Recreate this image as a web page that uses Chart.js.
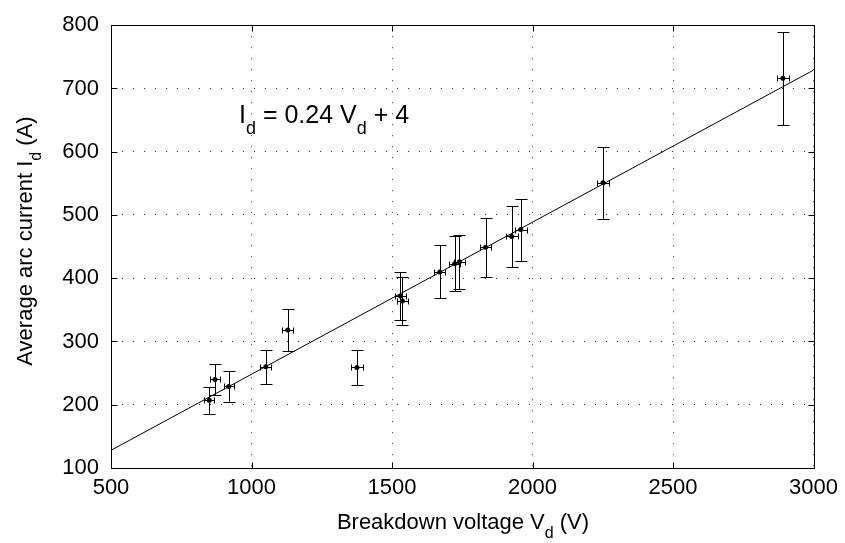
<!DOCTYPE html>
<html>
<head>
<meta charset="utf-8">
<script src="https://cdn.jsdelivr.net/npm/chart.js@4"></script>
<style>
  html, body { margin: 0; padding: 0; background: #fff; }
  #wrap { width: 845px; height: 543px; position: relative; }
</style>
</head>
<body>
<div id="wrap"><canvas id="arcChart"></canvas></div>
<script>
  // measured points: breakdown voltage (V) vs average arc current (A)
  const voltage = [850, 870, 919, 1051, 1129, 1375, 1530, 1537, 1670, 1723, 1740, 1833, 1926, 1958, 2251, 2891];
  const current = [207, 240, 229, 260, 318, 259, 372, 364, 410, 423, 426, 449, 466, 477, 551, 716];
  const voltageErr = [18, 18, 18, 19, 19, 20, 20, 20, 20, 20, 20, 20, 21, 21, 21, 21];
  const currentErr = [21, 25, 24, 27, 33, 27, 38, 38, 42, 43, 43, 47, 48, 49, 57, 74];

  // fitted line I_d = 0.24 V_d + 4, end points as drawn
  const fitVoltage = [500, 3000];
  const fitCurrent = [128, 729];

  const xTicks = [500, 1000, 1500, 2000, 2500, 3000];
  const yTicks = [100, 200, 300, 400, 500, 600, 700, 800];

  const fontFamily = "'Liberation Sans', Arial, sans-serif";

  function textWithSub(ctx, parts, x, y, size, align) {
    // parts: [[text, isSub], ...]
    const subSize = Math.round(size * 0.72);
    let total = 0;
    parts.forEach(([txt, sub]) => {
      ctx.font = `${sub ? subSize : size}px ${fontFamily}`;
      total += ctx.measureText(txt).width;
    });
    let cx = align === "center" ? x - total / 2 : x;
    ctx.textAlign = "left";
    ctx.textBaseline = "alphabetic";
    parts.forEach(([txt, sub]) => {
      ctx.font = `${sub ? subSize : size}px ${fontFamily}`;
      ctx.fillText(txt, cx, sub ? y + size * 0.42 : y);
      cx += ctx.measureText(txt).width;
    });
  }

  const decorations = {
    id: "decorations",
    afterDatasetsDraw(chart) {
      const { ctx, chartArea: area, scales } = chart;
      const sx = scales.x;
      const sy = scales.y;
      ctx.save();

      // error bars
      ctx.strokeStyle = "#000";
      ctx.lineWidth = 1;
      ctx.beginPath();
      voltage.forEach((v, i) => {
        const px = Math.round(sx.getPixelForValue(v)) + 0.5;
        const py = Math.round(sy.getPixelForValue(current[i])) + 0.5;
        const top = Math.round(sy.getPixelForValue(current[i] + currentErr[i])) + 0.5;
        const bot = Math.round(sy.getPixelForValue(current[i] - currentErr[i])) + 0.5;
        const left = Math.round(sx.getPixelForValue(v - voltageErr[i])) + 0.5;
        const right = Math.round(sx.getPixelForValue(v + voltageErr[i])) + 0.5;
        ctx.moveTo(px, top); ctx.lineTo(px, bot);
        ctx.moveTo(px - 6, top); ctx.lineTo(px + 6, top);
        ctx.moveTo(px - 6, bot); ctx.lineTo(px + 6, bot);
        ctx.moveTo(left, py); ctx.lineTo(right, py);
        ctx.moveTo(left, py - 3); ctx.lineTo(left, py + 3);
        ctx.moveTo(right, py - 3); ctx.lineTo(right, py + 3);
      });
      ctx.stroke();

      // box and inward ticks
      const l = Math.round(area.left) + 0.5;
      const r = Math.round(area.right) + 0.5;
      const t = Math.round(area.top) + 0.5;
      const b = Math.round(area.bottom) + 0.5;
      ctx.beginPath();
      ctx.rect(l, t, r - l, b - t);
      xTicks.forEach((v) => {
        const px = Math.round(sx.getPixelForValue(v)) + 0.5;
        ctx.moveTo(px, b); ctx.lineTo(px, b - 6);
        ctx.moveTo(px, t); ctx.lineTo(px, t + 6);
      });
      yTicks.forEach((v) => {
        const py = Math.round(sy.getPixelForValue(v)) + 0.5;
        ctx.moveTo(l, py); ctx.lineTo(l + 6, py);
        ctx.moveTo(r, py); ctx.lineTo(r - 6, py);
      });
      ctx.stroke();

      // labels with subscripts
      ctx.fillStyle = "#000";
      textWithSub(ctx, [["I", false], ["d", true], [" = 0.24 V", false], ["d", true], [" + 4", false]], 239, 123, 25, "left");
      textWithSub(ctx, [["Breakdown voltage V", false], ["d", true], [" (V)", false]], 463, 529, 22, "center");
      ctx.translate(32, 241);
      ctx.rotate(-Math.PI / 2);
      textWithSub(ctx, [["Average arc current I", false], ["d", true], [" (A)", false]], 0, 0, 22, "center");
      ctx.restore();
    },
  };

  new Chart(document.getElementById("arcChart"), {
    type: "scatter",
    data: {
      datasets: [
        {
          data: voltage.map((v, i) => ({ x: v, y: current[i] })),
          pointRadius: 2.5,
          pointBackgroundColor: "#000",
          pointBorderColor: "#000",
          pointBorderWidth: 0,
        },
        {
          type: "line",
          data: fitVoltage.map((v, i) => ({ x: v, y: fitCurrent[i] })),
          borderColor: "#000",
          borderWidth: 1,
          pointRadius: 0,
          fill: false,
        },
      ],
    },
    options: {
      responsive: true,
      maintainAspectRatio: false,
      animation: false,
      layout: { padding: { top: 21, right: 31, left: 0, bottom: 0 } },
      plugins: {
        legend: { display: false },
        tooltip: { enabled: false },
      },
      scales: {
        x: {
          type: "linear",
          min: 500,
          max: 3000,
          afterBuildTicks: (scale) => { scale.ticks = xTicks.map((v) => ({ value: v })); },
          afterFit: (scale) => { scale.height = 75; },
          ticks: {
            color: "#000",
            padding: 7,
            font: { family: fontFamily, size: 22 },
            callback: (value) => String(value),
          },
          grid: { color: "#333", lineWidth: 1, drawTicks: false },
          border: { display: false, dash: [1, 10] },
        },
        y: {
          type: "linear",
          min: 100,
          max: 800,
          afterBuildTicks: (scale) => { scale.ticks = yTicks.map((v) => ({ value: v })); },
          afterFit: (scale) => { scale.width = 111; },
          ticks: {
            color: "#000",
            padding: 12,
            font: { family: fontFamily, size: 22 },
            callback: (value) => String(value),
          },
          grid: { color: "#333", lineWidth: 1, drawTicks: false },
          border: { display: false, dash: [1, 10] },
        },
      },
    },
    plugins: [decorations],
  });
</script>
</body>
</html>
